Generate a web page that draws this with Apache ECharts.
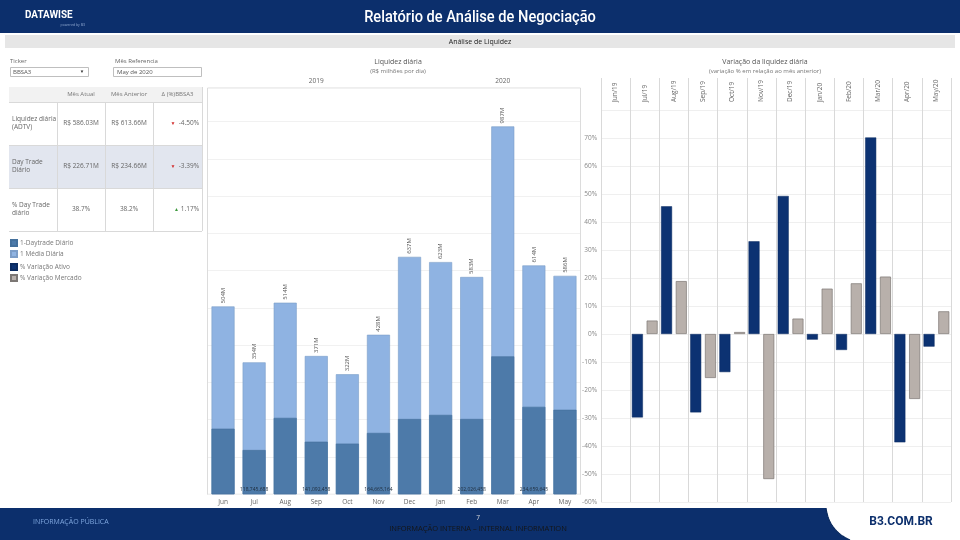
<!DOCTYPE html>
<html>
<head>
<meta charset="utf-8">
<script src="https://cdn.jsdelivr.net/npm/echarts@6/dist/echarts.min.js"></script>
<style>
html,body{margin:0;padding:0;background:#fff;}
#chart{width:960px;height:540px;}
</style>
</head>
<body>
<div id="chart"></div>
<script>
// ---------- DATA ----------
const months = ['Jun','Jul','Aug','Sep','Oct','Nov','Dec','Jan','Feb','Mar','Apr','May'];
const yearLabels = ['', '', '', '2019', '', '', '', '', '', '2020', '', ''];
const mediaDiaria = [504, 354, 514, 371, 322, 428, 637, 623, 583, 987, 614, 586.03];
const daytradeDiario = [176, 118.75, 205, 141.09, 136, 164.67, 202, 213, 202.03, 370, 234.66, 226.71];
const daytradeLabels = ['', '118,745,688', '', '141,092,458', '', '164,665,164', '', '', '202,026,458', '', '234,659,645', ''];

const varMonths = ['Jun/19','Jul/19','Aug/19','Sep/19','Oct/19','Nov/19','Dec/19','Jan/20','Feb/20','Mar/20','Apr/20','May/20'];
const varAtivo = [null, -29.8, 45.6, -28.0, -13.6, 33.1, 49.3, -2.0, -5.7, 70.2, -38.7, -4.5];
const varMercado = [null, 4.8, 18.9, -15.7, 0.7, -51.8, 5.5, 16.2, 18.1, 20.5, -23.2, 8.1];

const tableCols = ['Mês Atual', 'Mês Anterior', 'Δ (%)BBSA3'];
const tableRows = ['Liquidez diária\n(ADTV)', 'Day Trade\nDiário', '% Day Trade\ndiário'];
const mesAtual = ['R$ 586.03M', 'R$ 226.71M', '38.7%'];
const mesAnterior = ['R$ 613.66M', 'R$ 234.66M', '38.2%'];
const deltaPct = ['-4.50%', '-3.39%', '1.17%'];
const deltaUp = [false, false, true];

// ---------- CHART ----------
const FONT = '"Open Sans", "Noto Sans", sans-serif';
const NARROW = '"Liberation Sans Narrow", "Roboto", sans-serif';
const NAVY = '#0c2f6c';
const chart = echarts.init(document.getElementById('chart'), null, {renderer: 'canvas'});

function txt(x, y, text, o, extra) {
  o = o || {};
  return Object.assign({type: 'text', x: x, y: y, z: 10, style: Object.assign({
    text: text, fill: '#666', fontSize: 6.5, fontFamily: FONT,
    align: 'left', verticalAlign: 'middle'
  }, o)}, extra || {});
}
function rect(x, y, w, h, fill, stroke) {
  return {type: 'rect', z: 5, shape: {x: x, y: y, width: w, height: h},
    style: {fill: fill || 'none', stroke: stroke || null, lineWidth: 1}};
}
function line(x1, y1, x2, y2, c) {
  return {type: 'line', z: 6, shape: {x1: x1, y1: y1, x2: x2, y2: y2},
    style: {stroke: c || '#d9d9d9', lineWidth: 1}};
}

const g = [];
// header
g.push(rect(0, 0, 960, 33, NAVY));
g.push(txt(25, 15, 'DATAWISE', {fill: '#fff', fontSize: 11, fontWeight: 'bold', fontFamily: NARROW}, {scaleX: 0.9}));
g.push(txt(85, 25, 'powered by B3', {fill: '#8fa8d0', fontSize: 3.5, align: 'right'}));
g.push(txt(480, 18, 'Relatório de Análise de Negociação', {fill: '#fff', fontSize: 17, fontWeight: 500, align: 'center', fontFamily: NARROW}, {scaleX: 0.86}));
g.push(rect(5, 35, 950, 13, '#e6e6e6'));
g.push(txt(480, 42, 'Análise de Liquidez', {fill: '#222', fontSize: 7, align: 'center'}));

// controls
g.push(txt(10, 61, 'Ticker', {fontSize: 6}));
g.push(rect(10.5, 67.5, 78, 9, '#fff', '#bfbfbf'));
g.push(txt(13, 72, 'BBSA3', {fontSize: 6, fill: '#555'}));
g.push(txt(82, 72, '▼', {fontSize: 4.5, fill: '#333', align: 'center'}));
g.push(txt(115, 61, 'Mês Referencia', {fontSize: 6}));
g.push(rect(113.5, 67.5, 88, 9, '#fff', '#bfbfbf'));
g.push(txt(117, 72, 'May de 2020', {fontSize: 6, fill: '#555'}));

// table
const colX = [9, 57, 105, 153, 202];
const rowY = [87, 102, 145, 188, 231];
g.push(rect(colX[0], rowY[0], colX[4] - colX[0], rowY[1] - rowY[0], '#f2f2f2'));
g.push(rect(colX[0], rowY[2], colX[4] - colX[0], rowY[3] - rowY[2], '#e2e6ef'));
tableCols.forEach((c, i) => {
  g.push(txt((colX[i + 1] + colX[i + 2]) / 2, 94.5, c, {align: 'center', fontSize: 6, fill: '#777'}));
});
for (let r = 1; r < rowY.length; r++) g.push(line(colX[0], rowY[r] + 0.5, colX[4], rowY[r] + 0.5));
for (let c = 1; c < colX.length - 1; c++) g.push(line(colX[c] + 0.5, rowY[1], colX[c] + 0.5, rowY[4]));
g.push(line(colX[4] + 0.5, rowY[0], colX[4] + 0.5, rowY[4]));
tableRows.forEach((t, i) => {
  const cy = (rowY[i + 1] + rowY[i + 2]) / 2;
  g.push(txt(12, cy, t, {fontSize: 6.5, fill: '#666', lineHeight: 8}));
  g.push(txt((colX[1] + colX[2]) / 2, cy, mesAtual[i], {align: 'center', fontSize: 6.5, fill: '#666'}));
  g.push(txt((colX[2] + colX[3]) / 2, cy, mesAnterior[i], {align: 'center', fontSize: 6.5, fill: '#666'}));
  g.push(txt(199, cy, deltaPct[i], {align: 'right', fontSize: 6.5, fill: '#666'}));
  g.push(txt(199 - (deltaPct[i].length * 3.6) - 2, cy, deltaUp[i] ? '▲' : '▼',
    {align: 'right', fontSize: 5, fill: deltaUp[i] ? '#3e9a3e' : '#d32f2f'}));
});

// chart titles
g.push(txt(398, 62, 'Liquidez diária', {align: 'center', fontSize: 7, fill: '#555'}));
g.push(txt(398, 71, '(R$ milhões por dia)', {align: 'center', fontSize: 6, fill: '#777'}));
g.push(txt(765, 62, 'Variação da liquidez diária', {align: 'center', fontSize: 7, fill: '#555'}));
g.push(txt(765, 71, '(variação % em relação ao mês anterior)', {align: 'center', fontSize: 6, fill: '#777'}));

// footer
g.push(rect(0, 508, 960, 32, NAVY));
const curve = [];
for (let k = 0; k <= 16; k++) {
  const t = k / 16;
  curve.push([(1 - t) * (1 - t) * 826 + 2 * (1 - t) * t * 829 + t * t * 850,
              (1 - t) * (1 - t) * 508 + 2 * (1 - t) * t * 531 + t * t * 540]);
}
g.push({type: 'polygon', z: 7, shape: {points: curve.concat([[960, 540], [960, 508]])},
  style: {fill: '#fff'}});
g.push({type: 'polyline', z: 8, shape: {points: curve}, style: {stroke: '#0a2a5e', lineWidth: 1.2, fill: null}});
g.push(txt(33, 522, 'INFORMAÇÃO PÚBLICA', {fill: '#7fa6de', fontSize: 7}));
g.push(txt(478, 518, '7', {fill: '#ddd', fontSize: 6.5, align: 'center'}));
g.push(txt(478, 529, 'INFORMAÇÃO INTERNA – INTERNAL INFORMATION', {fill: '#151515', fontSize: 7.5, align: 'center'}));
g.push(txt(901, 522, 'B3.COM.BR', {fill: NAVY, fontSize: 12, fontWeight: 'bold', align: 'center', fontFamily: NARROW}));

const axisLabelStyle = {color: '#666', fontSize: 6.5, fontFamily: FONT};
const legendText = {fontSize: 6.5, color: '#777', padding: [0, 0, 0, -2]};

const option = {
  animation: false,
  textStyle: {fontFamily: FONT},
  legend: [
    {left: 7, top: 236, orient: 'vertical', itemWidth: 6, itemHeight: 6, itemGap: 3, icon: 'rect', padding: 3,
     data: ['1-Daytrade Diário', '1 Média Diária'], textStyle: legendText},
    {left: 7, top: 260, orient: 'vertical', itemWidth: 6, itemHeight: 6, itemGap: 3, icon: 'rect', padding: 3,
     data: ['% Variação Ativo', '% Variação Mercado'], textStyle: legendText}
  ],
  grid: [
    {left: 207.5, right: 379.5, top: 88, bottom: 45.7, show: true, borderColor: '#dcdcdc', borderWidth: 1},
    {left: 601, width: 350, top: 110, height: 392},
    {left: 601, width: 350, top: 78, height: 32}
  ],
  xAxis: [
    {gridIndex: 0, type: 'category', data: months, axisLine: {show: false}, axisTick: {show: false},
     axisLabel: Object.assign({margin: 4}, axisLabelStyle)},
    {gridIndex: 0, type: 'category', data: months, position: 'top', axisLine: {show: false}, axisTick: {show: false},
     axisLabel: Object.assign({margin: 3, interval: 0, formatter: (v, i) => yearLabels[i]}, axisLabelStyle),
     splitLine: {show: true, interval: (i) => i === 7, lineStyle: {color: '#dcdcdc'}}},
    {gridIndex: 1, type: 'category', data: varMonths, position: 'top', axisLine: {show: false}, axisTick: {show: false},
     axisLabel: Object.assign({margin: 8, rotate: 90, interval: 0}, axisLabelStyle),
     splitLine: {show: true, interval: 0, lineStyle: {color: '#d9d9d9'}}},
    {gridIndex: 2, type: 'category', data: varMonths, axisLine: {show: false}, axisTick: {show: false},
     axisLabel: {show: false}, splitLine: {show: true, interval: 0, lineStyle: {color: '#d9d9d9'}}}
  ],
  yAxis: [
    {gridIndex: 0, type: 'value', min: 0, max: 1090, interval: 100, axisLabel: {show: false},
     axisLine: {show: false}, axisTick: {show: false}, splitLine: {lineStyle: {color: '#f1f1f1'}}},
    {gridIndex: 1, type: 'value', min: -60, max: 80, interval: 10,
     axisLabel: Object.assign({margin: 4, formatter: v => v > 70 ? '' : v + '%'}, axisLabelStyle, {color: '#888'}),
     axisLine: {show: false}, axisTick: {show: false}, splitLine: {lineStyle: {color: '#efefef'}}},
    {gridIndex: 2, type: 'value', show: false}
  ],
  series: [
    {name: '1 Média Diária', type: 'bar', xAxisIndex: 0, yAxisIndex: 0, data: mediaDiaria, barWidth: 23, barGap: '-100%', z: 2,
     itemStyle: {color: '#8fb3e2', borderColor: '#7b9dc8', borderWidth: 0.6},
     label: {show: true, position: 'top', rotate: 90, align: 'left', verticalAlign: 'middle', distance: 3,
             fontSize: 6, color: '#555', formatter: p => Math.round(p.value) + 'M'}},
    {name: '1-Daytrade Diário', type: 'bar', xAxisIndex: 0, yAxisIndex: 0, data: daytradeDiario, barWidth: 23, barGap: '-100%', z: 3,
     itemStyle: {color: '#4d7aa9', borderColor: '#44709c', borderWidth: 0.6},
     label: {show: true, position: 'insideBottom', distance: 2, fontSize: 5, color: '#1d2b3a',
             formatter: p => daytradeLabels[p.dataIndex]}},
    {name: '% Variação Ativo', type: 'bar', xAxisIndex: 2, yAxisIndex: 1, data: varAtivo, barWidth: 11, barGap: '34%',
     itemStyle: {color: '#0c3272', borderColor: '#0a2a60', borderWidth: 0.5}},
    {name: '% Variação Mercado', type: 'bar', xAxisIndex: 2, yAxisIndex: 1, data: varMercado, barWidth: 11, barGap: '34%',
     itemStyle: {color: '#b8b0ab', borderColor: '#7c7774', borderWidth: 0.7}}
  ],
  graphic: g
};
chart.setOption(option);
</script>
</body>
</html>
